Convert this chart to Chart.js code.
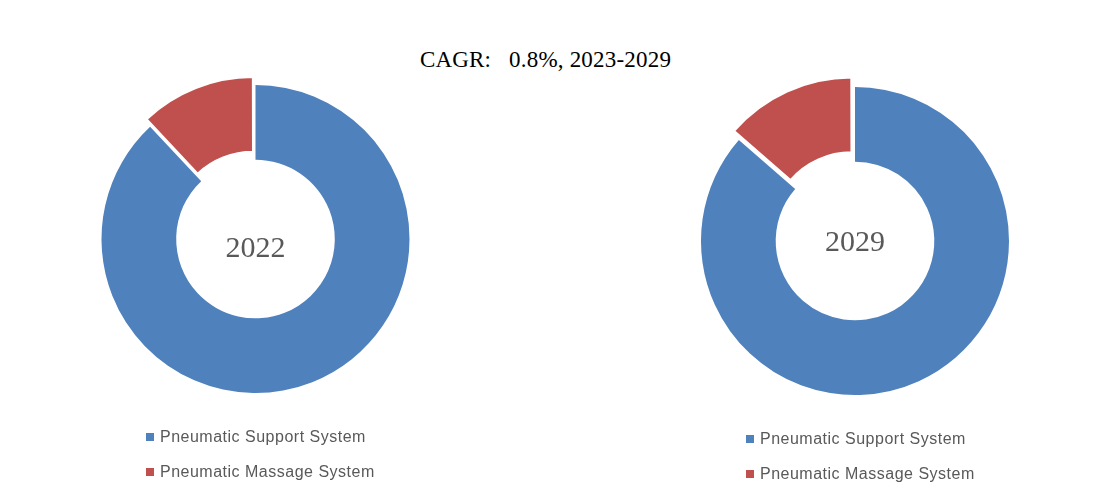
<!DOCTYPE html>
<html>
<head>
<meta charset="utf-8">
<script src="https://cdn.jsdelivr.net/npm/chart.js@4/dist/chart.umd.min.js"></script>
<style>
  body { margin: 0; background: #fff; width: 1108px; height: 501px; position: relative; overflow: hidden; }
  #title { position: absolute; left: 0; width: 1091px; top: 47px; text-align: center;
           font-family: "Liberation Serif", serif; font-size: 23px; letter-spacing: 0.2px; color: #000; }
  .wrap { position: absolute; top: 0; }
  .legend { position: absolute; font-family: "Liberation Sans", sans-serif; font-size: 16px;
            letter-spacing: 0.5px; color: #595959; }
  .legend div { position: absolute; white-space: nowrap; }
  .legend span { position: absolute; left: 0; width: 8px; height: 8px; }
  .legend b { position: absolute; left: 14px; font-weight: normal; line-height: 16px; top: -4px; }
</style>
</head>
<body>
<div id="title">CAGR:&nbsp;&nbsp; 0.8%, 2023-2029</div>
<div class="wrap" style="left:0;width:511px;height:478px"><canvas id="c2022"></canvas></div>
<div class="wrap" style="left:601px;width:508px;height:482px"><canvas id="c2029"></canvas></div>
<div class="legend" id="leg2022" style="left:146px;top:433px"></div>
<div class="legend" id="leg2029" style="left:746px;top:435px"></div>
<script>
'use strict';

var segments = ['Pneumatic Support System', 'Pneumatic Massage System'];
var share2022 = [88, 12];
var share2029 = [86.4, 13.6];
var colors = ['#4F81BD', '#C0504D'];

// year label in the hole
var centerText = {
    id: 'centerText',
    afterDraw: function (chart, args, opts) {
        var ctx = chart.ctx;
        var a = chart.chartArea;
        ctx.save();
        ctx.font = '30px "Liberation Serif", serif';
        ctx.fillStyle = '#595959';
        ctx.textAlign = 'center';
        ctx.textBaseline = 'middle';
        ctx.fillText(opts.text, (a.left + a.right) / 2, (a.top + a.bottom) / 2 + opts.dy);
        ctx.restore();
    }
};

// chart.js shifts an arc by offset * (1 - sin(angle)), so work back from the wanted pixel shift
function explode(values, px) {
    var total = values.reduce(function (s, v) { return s + v; }, 0);
    return values.map(function (v, i) {
        if (i === 0) return 0;
        var ang = Math.min(Math.PI, v / total * 2 * Math.PI);
        return px / (1 - Math.sin(ang));
    });
}

function makeDonut(id, values, year, dy) {
    var ctx = document.getElementById(id).getContext('2d');
    return new Chart(ctx, {
        type: 'doughnut',
        data: {
            labels: segments,
            datasets: [{
                data: values,
                backgroundColor: colors,
                borderColor: '#ffffff',
                borderWidth: [0, 2],
                offset: explode(values, 8),
                hoverOffset: 0
            }]
        },
        options: {
            responsive: true,
            maintainAspectRatio: false,
            animation: false,
            radius: 154,
            cutout: '51.5%',
            layout: { padding: 0 },
            plugins: {
                legend: { display: false },
                tooltip: { enabled: false },
                centerText: { text: year, dy: dy }
            }
        },
        plugins: [centerText]
    });
}

makeDonut('c2022', share2022, '2022', 10);
makeDonut('c2029', share2029, '2029', 2);

function makeLegend(id) {
    var el = document.getElementById(id);
    segments.forEach(function (name, i) {
        var row = document.createElement('div');
        row.style.top = (i * 35) + 'px';
        row.innerHTML = '<span style="background:' + colors[i] + '"></span><b>' + name + '</b>';
        el.appendChild(row);
    });
}
makeLegend('leg2022');
makeLegend('leg2029');
</script>
</body>
</html>
